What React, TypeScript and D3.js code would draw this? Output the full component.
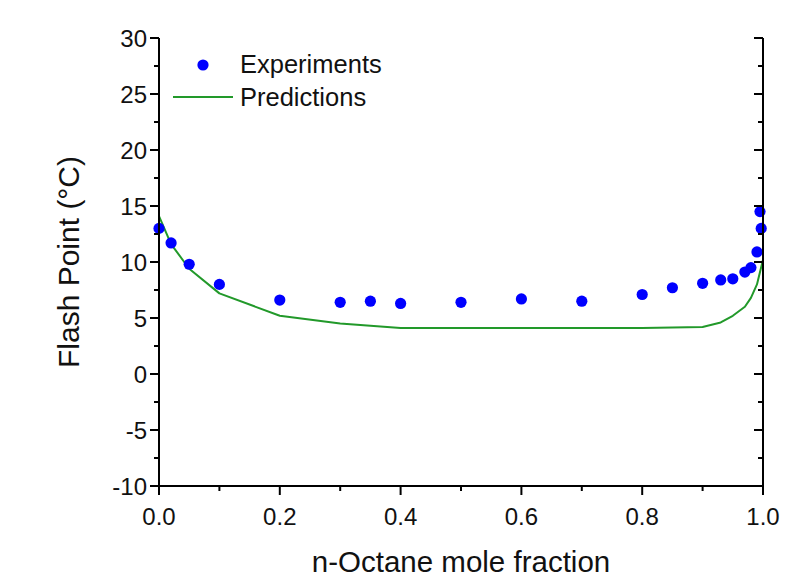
import * as d3 from 'd3';
import { useEffect } from 'react';

// experimental flash points
const expX = [0, 0.02, 0.05, 0.1, 0.2, 0.3, 0.35, 0.4, 0.5, 0.6, 0.7, 0.8, 0.85, 0.9, 0.93, 0.95, 0.97, 0.98, 0.99, 0.995, 0.997];
const expY = [13.0, 11.7, 9.8, 8.0, 6.6, 6.4, 6.5, 6.3, 6.4, 6.7, 6.5, 7.1, 7.7, 8.1, 8.4, 8.5, 9.1, 9.5, 10.9, 14.5, 13.0];

// model predictions
const predX = [0, 0.02, 0.05, 0.1, 0.2, 0.3, 0.4, 0.5, 0.6, 0.7, 0.8, 0.9, 0.93, 0.95, 0.97, 0.98, 0.99, 1.0];
const predY = [14.1, 11.6, 9.4, 7.2, 5.2, 4.5, 4.1, 4.1, 4.1, 4.1, 4.1, 4.2, 4.6, 5.2, 6.0, 6.8, 8.0, 10.2];

const xTicks = [0, 0.2, 0.4, 0.6, 0.8, 1.0];
const xMinor = [0.1, 0.3, 0.5, 0.7, 0.9];
const yTicks = [-10, -5, 0, 5, 10, 15, 20, 25, 30];
const yMinor = [-7.5, -2.5, 2.5, 7.5, 12.5, 17.5, 22.5, 27.5];

const font = 'Arial, "Liberation Sans", sans-serif';

function App(): JSX.Element {
  useEffect(() => {
    document.body.style.margin = '0';
  }, []);

  const width = 809;
  const height = 585;
  const margin = { top: 38, right: 46, bottom: 99, left: 159 };

  const x = d3.scaleLinear().domain([0, 1]).range([margin.left, width - margin.right]);
  const y = d3.scaleLinear().domain([-10, 30]).range([height - margin.bottom, margin.top]);

  const lineGen = d3
    .line<number>()
    .x((_d, i) => x(predX[i]))
    .y((d) => y(d));

  const x0 = x(0);
  const x1 = x(1);
  const yb = y(-10);
  const yt = y(30);

  return (
    <svg width={width} height={height} style={{ display: 'block' }}>
      <rect width={width} height={height} fill="#fff" />

      {/* predictions */}
      <path d={lineGen(predY) || ''} fill="none" stroke="#22992a" strokeWidth={2} strokeLinejoin="round" />

      {/* experiments */}
      {expY.map((v, i) => (
        <circle key={i} cx={x(expX[i])} cy={y(v)} r={5.6} fill="#0000ff" />
      ))}

      {/* axes */}
      <g stroke="#000" strokeWidth={2}>
        <line x1={x0} x2={x0} y1={yt} y2={yb + 1} />
        <line x1={x1} x2={x1} y1={yt} y2={yb + 1} />
        <line x1={x0 - 1} x2={x1 + 1} y1={yb} y2={yb} />
        {yTicks.map((t) => (
          <g key={`yt${t}`}>
            <line x1={x0 - 9} x2={x0} y1={y(t)} y2={y(t)} />
            <line x1={x1 - 9} x2={x1} y1={y(t)} y2={y(t)} />
          </g>
        ))}
        {yMinor.map((t) => (
          <g key={`ym${t}`}>
            <line x1={x0 - 5} x2={x0} y1={y(t)} y2={y(t)} />
            <line x1={x1 - 5} x2={x1} y1={y(t)} y2={y(t)} />
          </g>
        ))}
        {xTicks.map((t) => (
          <line key={`xt${t}`} x1={x(t)} x2={x(t)} y1={yb} y2={yb + 9} />
        ))}
        {xMinor.map((t) => (
          <line key={`xm${t}`} x1={x(t)} x2={x(t)} y1={yb} y2={yb + 5} />
        ))}
      </g>

      <g fontFamily={font} fontSize={24} fill="#111">
        {yTicks.map((t) => (
          <text key={`yl${t}`} x={x0 - 12} y={y(t) + 8.5} textAnchor="end">
            {t}
          </text>
        ))}
        {xTicks.map((t) => (
          <text key={`xl${t}`} x={x(t)} y={yb + 39} textAnchor="middle">
            {t.toFixed(1)}
          </text>
        ))}
      </g>

      {/* axis titles */}
      <text x={(x0 + x1) / 2} y={572} textAnchor="middle" fontFamily={font} fontSize={29.5} fill="#111">
        n-Octane mole fraction
      </text>
      <text
        transform={`translate(79, ${(yt + yb) / 2}) rotate(-90)`}
        textAnchor="middle"
        fontFamily={font}
        fontSize={30}
        fill="#111"
      >
        Flash Point (°C)
      </text>

      {/* legend */}
      <circle cx={203} cy={65} r={5.6} fill="#0000ff" />
      <line x1={173} x2={233} y1={97} y2={97} stroke="#22992a" strokeWidth={2} />
      <g fontFamily={font} fontSize={25.5} fill="#111">
        <text x={240} y={73}>Experiments</text>
        <text x={240} y={106}>Predictions</text>
      </g>
    </svg>
  );
}

export default App;
